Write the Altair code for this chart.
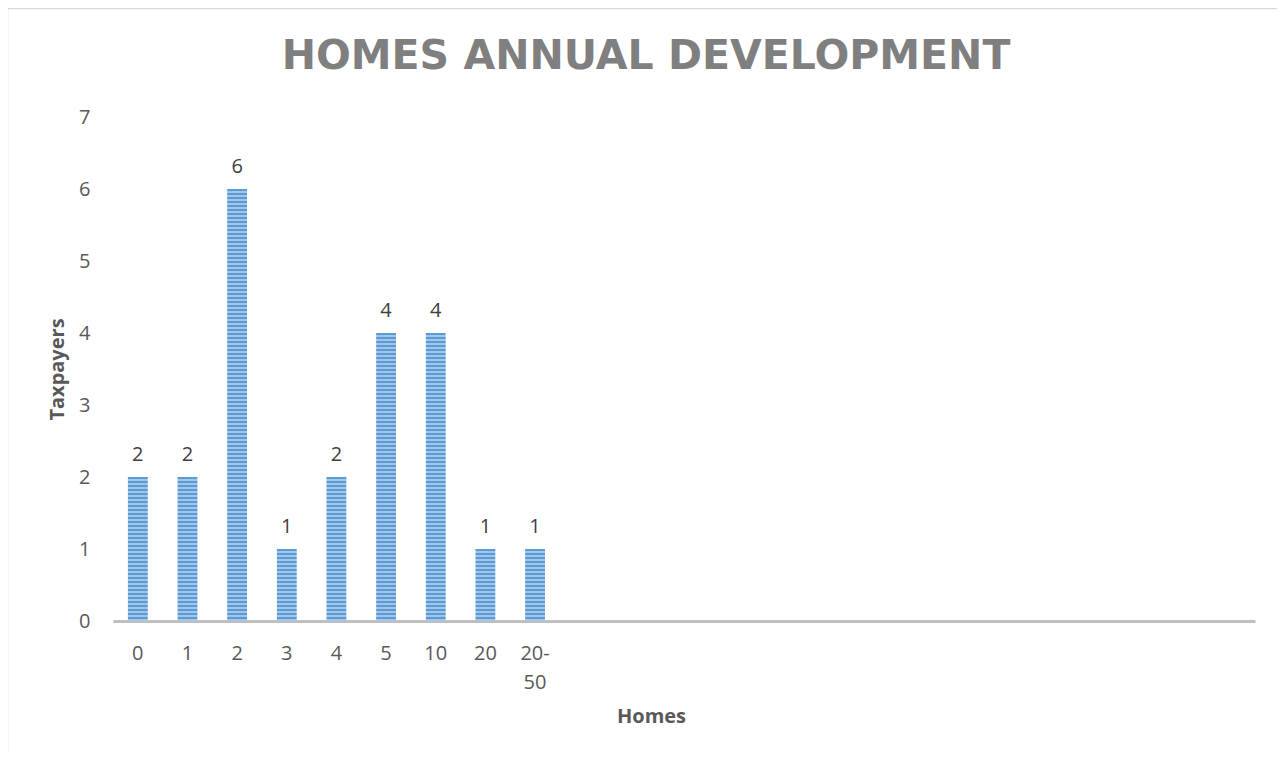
import altair as alt
import pandas as pd

# ---- data ----
categories = ["0", "1", "2", "3", "4", "5", "10", "20", "20-50"]
taxpayers = [2, 2, 6, 1, 2, 4, 4, 1, 1]
empty_slots = 14          # unused category slots on the right of the axis
y_ticks = [0, 1, 2, 3, 4, 5, 6, 7]
title_text = "HOMES ANNUAL DEVELOPMENT"
x_title = "Homes"
y_title = "Taxpayers"

# ---- layout / style ----
W, H = 1142, 504
YMAX = 7
FONT = "Open Sans"
TITLE_FONT = "DejaVu Sans"
DARK = "#5b9bd5"
LIGHT = "#a2c5e9"
PERIOD = 4.0

domain = categories + [" " * (i + 1) for i in range(empty_slots)]
df = pd.DataFrame({"cat": categories, "v": taxpayers})


def stripes(value):
    """Horizontal stripe pattern (style only) with a fixed pixel period."""
    px = value * H / YMAX
    n = max(1, round(px / PERIOD))
    stops = []
    for i in range(n):
        a = i / n
        m = (i + 0.5) / n
        b = (i + 1) / n
        stops += [
            {"offset": a, "color": DARK},
            {"offset": m, "color": DARK},
            {"offset": m, "color": LIGHT},
            {"offset": b, "color": LIGHT},
        ]
    return {"gradient": "linear", "x1": 0, "y1": 0, "x2": 0, "y2": 1, "stops": stops}


fill_enc = {
    "condition": [{"test": f"datum.v == {v}", "value": stripes(v)} for v in sorted(set(taxpayers))],
    "value": DARK,
}

x_enc = alt.X(
    "cat:N",
    sort=None,
    scale=alt.Scale(domain=domain, paddingInner=0.6, paddingOuter=0.3),
    axis=alt.Axis(
        title=x_title,
        labelAngle=0,
        ticks=False,
        grid=False,
        domainColor="#bfbfbf",
        domainWidth=3,
        labelFont=FONT,
        labelFontSize=20,
        labelColor="#595959",
        labelPadding=22,
        labelLineHeight=29,
        labelExpr="indexof(datum.label, '-') > 0 ? [slice(datum.label, 0, indexof(datum.label, '-') + 1), slice(datum.label, indexof(datum.label, '-') + 1)] : datum.label",
        titleFont=FONT,
        titleFontSize=20,
        titleFontWeight="bold",
        titleColor="#595959",
        titleX=538,
        titleY=101,
        titleAlign="center",
        titleBaseline="alphabetic",
    ),
)

y_enc = alt.Y(
    "v:Q",
    scale=alt.Scale(domain=[0, YMAX], nice=False),
    axis=alt.Axis(
        values=y_ticks,
        format="d",
        ticks=False,
        domain=False,
        grid=False,
        labelFont=FONT,
        labelFontSize=20,
        labelColor="#595959",
        labelPadding=23,
        title=y_title,
        titleFont=FONT,
        titleFontSize=20,
        titleFontWeight="bold",
        titleColor="#595959",
        titleX=-56,
        titleY=H / 2,
        titleAlign="center",
        titleBaseline="middle",
    ),
)

border = alt.Chart(alt.Data(values=[{"k": 1}])).mark_rect(
    fillOpacity=0, stroke="#d9d9d9", strokeWidth=1.5
).encode(
    x=alt.value(-105.5), x2=alt.value(W + 200),
    y=alt.value(-108.5), y2=alt.value(H + 300),
)

bars = alt.Chart(df).mark_bar().encode(x=x_enc, y=y_enc, fill=fill_enc)

labels = alt.Chart(df).mark_text(
    dy=-16, baseline="alphabetic", font=FONT, fontSize=20, color="#404040"
).encode(x=alt.X("cat:N", sort=None), y="v:Q", text="v:Q")

chart = alt.layer(border, bars, labels).properties(
    width=W,
    height=H,
    autosize="none",
    background="white",
    padding={"left": 105, "top": 109, "right": 22, "bottom": 131},
    title=alt.TitleParams(
        text=title_text,
        font=TITLE_FONT,
        fontSize=41,
        fontWeight="bold",
        color="#7f7f7f",
        anchor="middle",
        frame="group",
        baseline="alphabetic",
        dx=-38,
        offset=-102,
    ),
).configure_view(strokeWidth=0, stroke="transparent")

chart.save("out.html", embed_options={"renderer": "svg", "actions": False})
